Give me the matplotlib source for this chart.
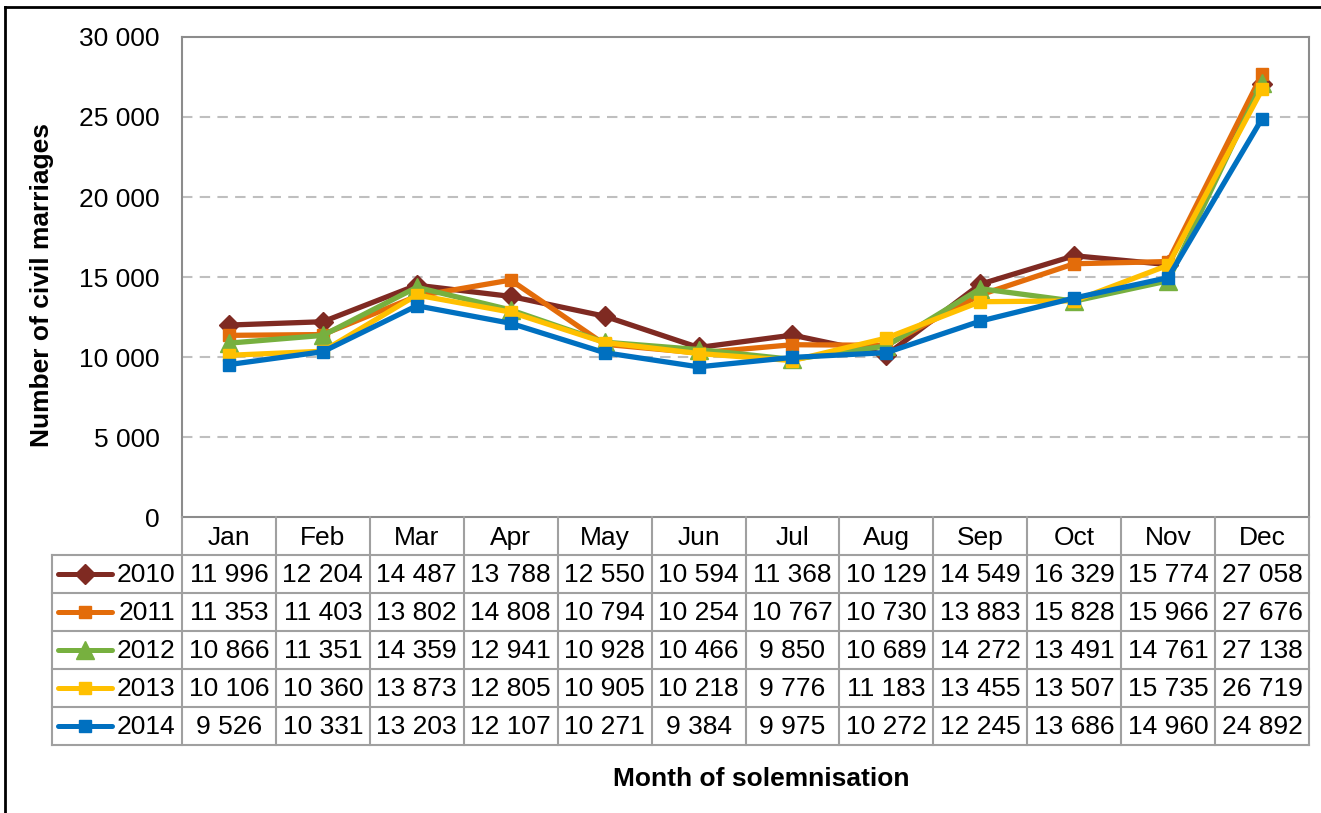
import matplotlib
matplotlib.use("Agg")
import matplotlib.pyplot as plt
from matplotlib.lines import Line2D

plt.rcParams['font.family'] = ['Liberation Sans', 'DejaVu Sans']

months = ["Jan", "Feb", "Mar", "Apr", "May", "Jun", "Jul", "Aug", "Sep", "Oct", "Nov", "Dec"]
years = ["2010", "2011", "2012", "2013", "2014"]
v2010 = [11996, 12204, 14487, 13788, 12550, 10594, 11368, 10129, 14549, 16329, 15774, 27058]
v2011 = [11353, 11403, 13802, 14808, 10794, 10254, 10767, 10730, 13883, 15828, 15966, 27676]
v2012 = [10866, 11351, 14359, 12941, 10928, 10466, 9850, 10689, 14272, 13491, 14761, 27138]
v2013 = [10106, 10360, 13873, 12805, 10905, 10218, 9776, 11183, 13455, 13507, 15735, 26719]
v2014 = [9526, 10331, 13203, 12107, 10271, 9384, 9975, 10272, 12245, 13686, 14960, 24892]
series = [v2010, v2011, v2012, v2013, v2014]
colors = ["#7F2A22", "#E36C0A", "#77B03F", "#FFC000", "#0070C0"]
markers = ["D", "s", "^", "s", "s"]
msizes = [10, 9, 13, 9, 8.5]
yticks = [0, 5000, 10000, 15000, 20000, 25000, 30000]

W, H = 1321, 813
FS = 19
fig = plt.figure(figsize=(W / 100, H / 100), dpi=100)

def fmt(v):
    return f"{v:,}".replace(",", " ")

# main plot
ax = fig.add_axes([182 / W, 1 - 517 / H, (1309 - 182) / W, (517 - 37) / H])
x = list(range(len(months)))
for vals, c, m, ms in zip(series, colors, markers, msizes):
    ax.plot(x, vals, color=c, marker=m, markersize=ms, linewidth=3.8, zorder=3)
ax.set_xlim(-0.5, len(months) - 0.5)
ax.set_ylim(0, 30000)
ax.set_yticks(yticks)
ax.set_yticklabels([fmt(t) for t in yticks], fontsize=FS)
ax.set_xticks([])
ax.tick_params(axis='y', length=0, pad=16)
for t in yticks[1:-1]:
    ax.axhline(t, color="#BFBFBF", linewidth=1.5, dashes=(5, 3.5), zorder=1)
for s in ax.spines.values():
    s.set_color("#8C8C8C")
    s.set_linewidth(1.5)

# data table
px = (1309 - 182) / 12
left_units = (182 - 52) / px
tax = fig.add_axes([52 / W, 1 - 745 / H, (1309 - 52) / W, (745 - 517) / H])
x0 = -0.5 - left_units
tax.set_xlim(x0, len(months) - 0.5)
tax.set_ylim(0, 6)
tax.axis("off")
gc = "#A0A0A0"
for yy in range(0, 6):
    tax.plot([x0, len(months) - 0.5], [yy, yy], color=gc, lw=1.5, clip_on=False)
tax.plot([x0, x0], [0, 5], color=gc, lw=1.5, clip_on=False)
for k in range(len(months) + 1):
    tax.plot([k - 0.5, k - 0.5], [0, 6], color=gc, lw=1.5, clip_on=False)
for i, mth in enumerate(months):
    tax.text(i, 5.45, mth, ha="center", va="center", fontsize=FS)
for r, (yr, vals, c, m, ms) in enumerate(zip(years, series, colors, markers, msizes)):
    yc = 4.5 - r
    tax.plot([-0.5 - (182 - 58) / px, -0.5 - (182 - 112) / px], [yc, yc], color=c, lw=3.6,
             solid_capstyle="round", clip_on=False)
    tax.plot([-0.5 - (182 - 85) / px], [yc], color=c, marker=m, markersize=ms, clip_on=False)
    tax.text(-0.5 - 7 / px, yc - 0.02, yr, ha="right", va="center", fontsize=FS)
    for i, v in enumerate(vals):
        tax.text(i, yc - 0.02, fmt(v), ha="center", va="center", fontsize=FS)

fig.text(42 / W, 1 - 285 / H, "Number of civil marriages", rotation=90, ha="center", va="center",
         fontsize=FS, fontweight="bold")
fig.text(761 / W, 1 - 779 / H, "Month of solemnisation", ha="center", va="center",
         fontsize=FS, fontweight="bold")

# outer frame (top and left visible)
fig.add_artist(Line2D([5 / W, 1.0], [1 - 7 / H, 1 - 7 / H], color="black", lw=2, transform=fig.transFigure))
fig.add_artist(Line2D([5 / W, 5 / W], [0, 1 - 7 / H], color="black", lw=2, transform=fig.transFigure))

fig.savefig("out.png", dpi=100)
